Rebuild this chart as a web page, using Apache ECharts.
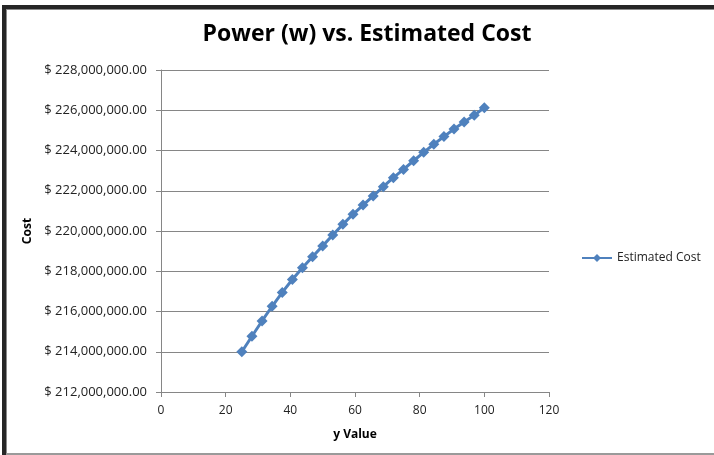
<!DOCTYPE html>
<html>
<head>
<meta charset="utf-8">
<script src="https://cdn.jsdelivr.net/npm/echarts@6/dist/echarts.min.js"></script>
<style>
html,body{margin:0;padding:0;background:#fff;}
#chart{width:714px;height:455px;}
</style>
</head>
<body>
<div id="chart"></div>
<script>
var xValues = [25, 28.125, 31.25, 34.375, 37.5, 40.625, 43.75, 46.875, 50, 53.125, 56.25, 59.375, 62.5, 65.625, 68.75, 71.875, 75, 78.125, 81.25, 84.375, 87.5, 90.625, 93.75, 96.875, 100];
var costValues = [214000000, 214770000, 215530000, 216260000, 216950000, 217590000, 218170000, 218720000, 219260000, 219800000, 220330000, 220830000, 221290000, 221740000, 222200000, 222650000, 223060000, 223490000, 223910000, 224310000, 224690000, 225070000, 225420000, 225750000, 226130000];
var seriesName = 'Estimated Cost';
var titleText = 'Power (w) vs. Estimated Cost';
var xAxisName = 'y Value';
var yAxisName = 'Cost';

function money(v) {
  var s = Math.round(v).toString().replace(/\B(?=(\d{3})+(?!\d))/g, ',');
  return '$ ' + s + '.00';
}

var points = xValues.map(function (x, i) { return [x, costValues[i]]; });
var font = '"Open Sans", "Liberation Sans", sans-serif';

var chart = echarts.init(document.getElementById('chart'), null, {renderer: 'canvas'});
chart.setOption({
  backgroundColor: '#ffffff',
  animation: false,
  title: {
    text: titleText,
    left: 362, top: 18, textAlign: 'center',
    textStyle: {fontFamily: font, fontWeight: 'bold', fontSize: 23, color: '#000'}
  },
  graphic: [
    {type: 'rect', shape: {x: 2, y: 5, width: 4, height: 450}, style: {fill: '#262626'}},
    {type: 'rect', shape: {x: 2, y: 5, width: 712, height: 4}, style: {fill: '#262626'}},
    {type: 'rect', shape: {x: 6, y: 9, width: 708, height: 1}, style: {fill: '#8a8a8a'}},
    {type: 'rect', shape: {x: 6, y: 9, width: 1, height: 446}, style: {fill: '#8a8a8a'}},
    {type: 'rect', shape: {x: 6, y: 453, width: 708, height: 2}, style: {fill: '#9a9a9a'}}
  ],
  legend: {
    left: 581, top: 252, padding: 0,
    itemWidth: 30, itemHeight: 10, itemGap: 4,
    textStyle: {fontFamily: font, fontSize: 12, color: '#222'},
    data: [seriesName]
  },
  grid: {left: 161, right: 165, top: 70, bottom: 63, containLabel: false},
  xAxis: {
    type: 'value', min: 0, max: 120, interval: 20,
    name: xAxisName, nameLocation: 'middle', nameGap: 37,
    nameTextStyle: {fontFamily: font, fontWeight: 'bold', fontSize: 12, color: '#000'},
    axisLine: {show: true, lineStyle: {color: '#868686', width: 1}},
    axisTick: {show: true, inside: false, length: 5, lineStyle: {color: '#868686'}},
    axisLabel: {fontFamily: font, fontSize: 12, color: '#222', margin: 13},
    splitLine: {show: false}
  },
  yAxis: {
    type: 'value', min: 212000000, max: 228000000, interval: 2000000,
    name: yAxisName, nameLocation: 'middle', nameGap: 127, nameRotate: 90,
    nameTextStyle: {fontFamily: font, fontWeight: 'bold', fontSize: 12, color: '#000'},
    axisLine: {show: true, lineStyle: {color: '#868686', width: 1}},
    axisTick: {show: true, inside: false, length: 5, lineStyle: {color: '#868686'}},
    axisLabel: {fontFamily: font, fontSize: 13, color: '#222', margin: 14, formatter: money},
    splitLine: {show: true, lineStyle: {color: '#868686', width: 1}}
  },
  series: [{
    name: seriesName,
    type: 'line',
    data: points,
    symbol: 'diamond',
    symbolSize: 11,
    lineStyle: {color: '#4F81BD', width: 3},
    itemStyle: {color: '#4F81BD'}
  }]
});
</script>
</body>
</html>
